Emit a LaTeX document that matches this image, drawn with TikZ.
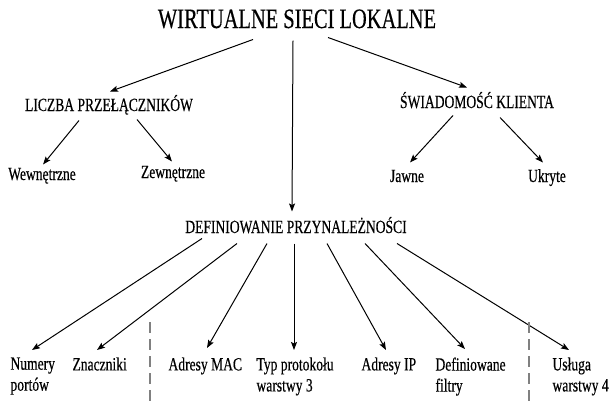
\documentclass[tikz,border=0pt]{standalone}
\usepackage{fontspec}
\setmainfont{Liberation Serif}[FakeStretch=0.73,FakeBold=0.4]
\usetikzlibrary{arrows.meta}

\begin{document}
\begin{tikzpicture}[x=1pt,y=-1pt,line width=1pt,every node/.style={inner sep=0pt},
            >={Stealth[length=8pt,width=6pt,inset=1.5pt]},
            mainhead/.style={anchor=base,text height=19pt,text depth=0pt,font=\fontsize{28}{30}\selectfont},
            head/.style={anchor=base,text height=13pt,text depth=0pt,font=\fontsize{18.6}{21}\selectfont},
            leaf/.style={anchor=north west,align=left,font=\fontsize{18.6}{21}\selectfont},
            sep/.style={draw=gray,line width=1.3pt,dash pattern=on 11pt off 6pt}]
            \useasboundingbox(0,0)rectangle(615,405);
            \node[mainhead](wsl)at(297,28){WIRTUALNE SIECI LOKALNE};
            \node[head](lp)at(109,111){LICZBA PRZEŁĄCZNIKÓW};
            \node[head](sk)at(477,108){ŚWIADOMOŚĆ KLIENTA};
            \node[head](dp)at(296,233){DEFINIOWANIE PRZYNALEŻNOŚCI};
            \node[head](wew)at(42,180){Wewnętrzne};
            \node[head](zew)at(173,178){Zewnętrzne};
            \node[head](jaw)at(407,182){Jawne};
            \node[head](ukr)at(547,182){Ukryte};
            \node[leaf](num)at(10,357){Numery\\portów};
            \node[leaf](zn)at(72,357){Znaczniki};
            \node[leaf](mac)at(168,357){Adresy MAC};
            \node[leaf](typ)at(256,357){Typ protokołu\\warstwy 3};
            \node[leaf](ip)at(361,357){Adresy IP};
            \node[leaf](filt)at(435,357){Definiowane\\filtry};
            \node[leaf](usl)at(552,357){Usługa\\warstwy 4};
            % pierwszy poziom
            \draw[->]([xshift=-44pt,yshift=-11pt]wsl.south)--([xshift=1pt,yshift=6pt]lp.north);
            \draw[->]([xshift=31pt,yshift=-9pt]wsl.south)--([xshift=-10pt,yshift=7pt]sk.north);
            \draw[->]([xshift=-4pt,yshift=-12pt]wsl.south)--([xshift=-4pt,yshift=8pt]dp.north);
            \draw[->]([xshift=-30pt,yshift=-9pt]lp.south)--([xshift=1pt,yshift=2pt]wew.north);
            \draw[->]([xshift=28pt,yshift=-8pt]lp.south)--([xshift=-1pt,yshift=3pt]zew.north);
            \draw[->]([xshift=-24pt,yshift=-7pt]sk.south)--([xshift=3pt,yshift=6pt]jaw.north);
            \draw[->]([xshift=23pt,yshift=-9pt]sk.south)--([xshift=-4pt,yshift=6pt]ukr.north);
            % definiowanie przynaleznosci
            \draw[->]([xshift=-94pt,yshift=-5pt]dp.south)--([xshift=22pt,yshift=7pt]num.north west);
            \draw[->]([xshift=-59pt,yshift=-10pt]dp.south)--([xshift=25pt,yshift=7pt]zn.north west);
            \draw[->]([xshift=-29pt,yshift=-10pt]dp.south)--([xshift=39pt,yshift=9pt]mac.north west);
            \draw[->]([xshift=-2pt,yshift=-10pt]dp.south)--([xshift=38pt,yshift=7pt]typ.north west);
            \draw[->]([xshift=31pt,yshift=-10pt]dp.south)--([xshift=25pt,yshift=7pt]ip.north west);
            \draw[->]([xshift=69pt,yshift=-10pt]dp.south)--([xshift=30pt,yshift=8pt]filt.north west);
            \draw[->]([xshift=101pt,yshift=-10pt]dp.south)--([xshift=17pt,yshift=7pt]usl.north west);
            \draw[sep](150,322)--(150,405);
            \draw[sep](529,322)--(529,405);
        \end{tikzpicture}
\end{document}
